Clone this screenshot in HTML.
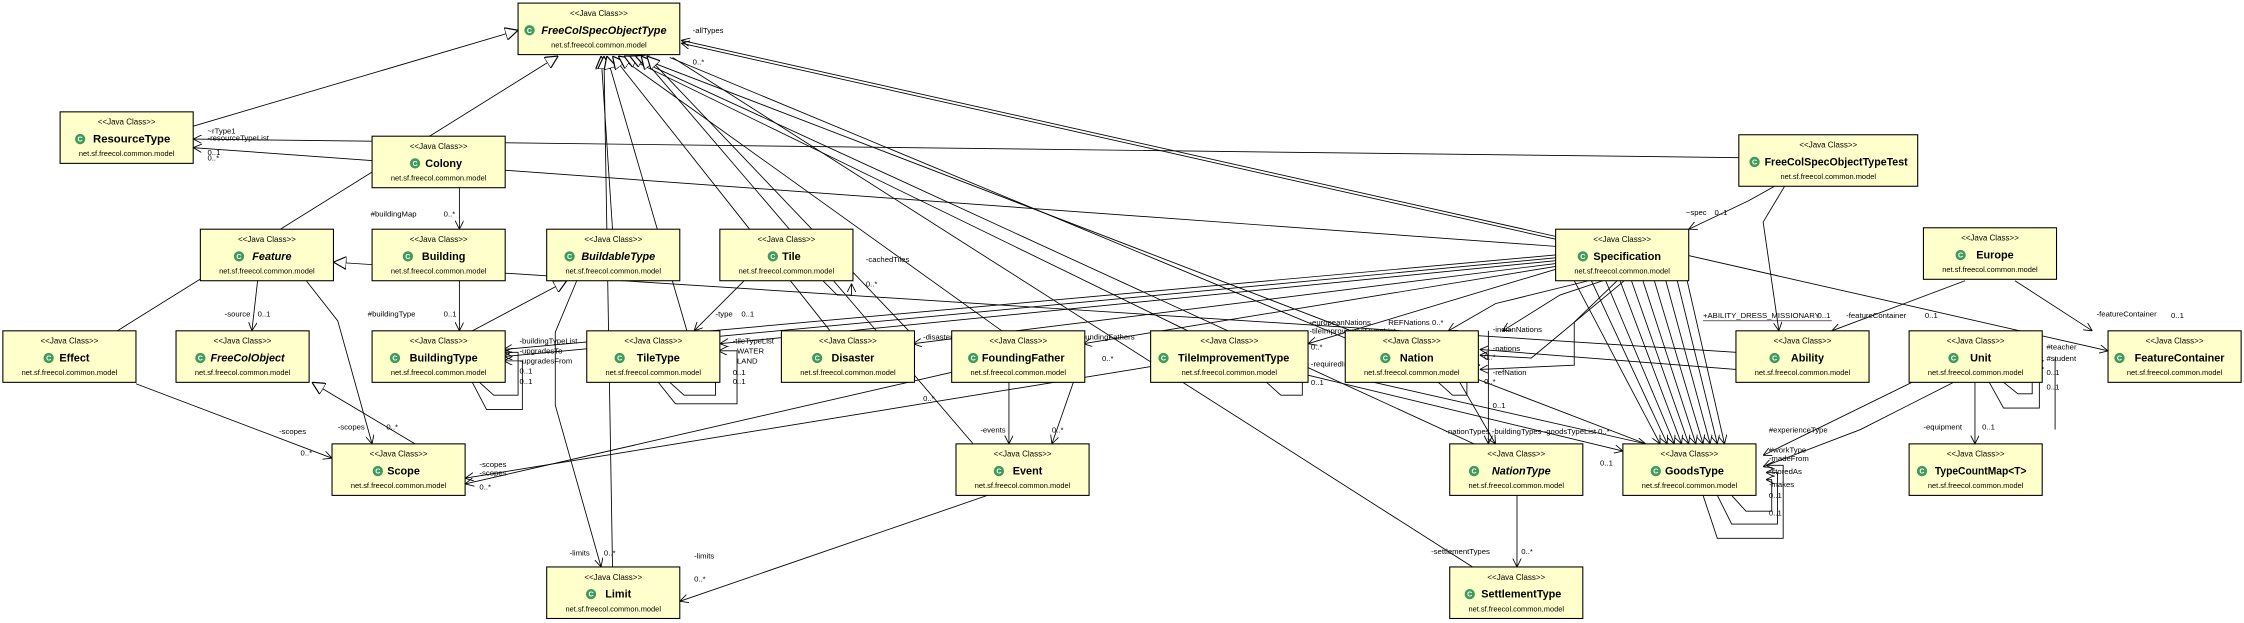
<!DOCTYPE html>
<html><head><meta charset="utf-8"><style>
html,body{margin:0;padding:0;background:#fff;}
svg{display:block;}
.b{fill:#ffffcc;stroke:#000;stroke-width:0.75;}
.st{font:5.6px "Liberation Sans",sans-serif;text-anchor:middle;fill:#000;}
.nm{font:bold 7.6px "Liberation Sans",sans-serif;text-anchor:middle;fill:#000;}
.it{font-style:italic;}
.pk{font:5.2px "Liberation Sans",sans-serif;text-anchor:middle;fill:#000;}
.l{stroke:#000;stroke-width:0.6;fill:none;}
.t{font:5.4px "Liberation Sans",sans-serif;fill:#000;}
.ic{fill:#3f9a5c;}
.ict{font:bold 5px "Liberation Sans",sans-serif;fill:#fff;text-anchor:middle;}
</style></head><body>
<svg width="2244" height="623" viewBox="0 0 1568 435" xmlns="http://www.w3.org/2000/svg">
<defs>
<marker id="a" viewBox="0 0 10 10" refX="10" refY="5" markerWidth="6" markerHeight="6" orient="auto" markerUnits="userSpaceOnUse"><path d="M0,0 L10,5 L0,10" fill="none" stroke="#000" stroke-width="1"/></marker>
<marker id="tr" viewBox="0 0 10 10" refX="10" refY="5" markerWidth="9" markerHeight="9" orient="auto" markerUnits="userSpaceOnUse"><path d="M0,0 L10,5 L0,10 Z" fill="#fff" stroke="#000" stroke-width="0.9"/></marker>
</defs>

<g class="l" marker-end="url(#tr)">
<line x1="135" y1="88" x2="362" y2="21"/>
<line x1="82" y1="231" x2="390" y2="39"/>
<line x1="428" y1="160" x2="420" y2="39"/>
<line x1="428" y1="396" x2="422" y2="39"/>
<line x1="480" y1="231" x2="424" y2="39"/>
<line x1="580" y1="231" x2="428" y2="39"/>
<line x1="700" y1="231" x2="432" y2="39"/>
<line x1="830" y1="231" x2="436" y2="39"/>
<line x1="1030" y1="310" x2="440" y2="39"/>
<line x1="1150" y1="310" x2="444" y2="39"/>
<line x1="680" y1="310" x2="448" y2="39"/>
<line x1="635" y1="231" x2="452" y2="39"/>
<line x1="330" y1="231" x2="396" y2="196"/>
<line x1="1213" y1="246" x2="233" y2="183"/>
<line x1="290" y1="310" x2="218" y2="267"/>
</g>
<line class="l" x1="940" y1="236" x2="468" y2="40" stroke-width="1"/>
<line class="l" x1="1029" y1="396" x2="470" y2="40"/>

<g class="l" marker-end="url(#a)">
<line x1="1087" y1="165" x2="476" y2="28"/>
<line x1="1087" y1="167" x2="476" y2="30"/>
<line x1="1215" y1="110" x2="135" y2="97"/>
<line x1="1087" y1="172" x2="135" y2="103"/>
<line x1="321" y1="131" x2="321" y2="160"/>
<line x1="321" y1="196" x2="321" y2="231"/>
<line x1="180" y1="196" x2="176" y2="231"/>
<polyline points="214,196 236,224 260,310"/>
<line x1="95" y1="268" x2="232" y2="320"/>
<polyline points="1240,130 1222,140 1180,160"/>
<polyline points="1250,125 1232,155 1243,231"/>
<line x1="1373" y1="196" x2="1280" y2="231"/>
<line x1="1408" y1="196" x2="1462" y2="231"/>
<line x1="1178" y1="178" x2="1473" y2="245"/>
<line x1="1380" y1="267" x2="1380" y2="310"/>
<line x1="1340" y1="265" x2="1232" y2="318"/>
<polyline points="1365,267 1300,300 1232,326"/>
<line x1="1060" y1="346" x2="1060" y2="396"/>
<line x1="1020" y1="267" x2="1045" y2="310"/>
<line x1="690" y1="346" x2="475" y2="420"/>
<line x1="705" y1="267" x2="705" y2="310"/>
<line x1="750" y1="267" x2="735" y2="310"/>
<polyline points="403,196 388,232 388,283 420,396"/>
<line x1="520" y1="196" x2="485" y2="231"/>
<line x1="804" y1="256" x2="325" y2="334"/>
<line x1="665" y1="260" x2="325" y2="338"/>
<line x1="1087" y1="178" x2="352" y2="244"/>
<line x1="1087" y1="180" x2="352" y2="249"/>
<line x1="1087" y1="182" x2="503" y2="240"/>
<line x1="1087" y1="184" x2="638" y2="240"/>
<line x1="1087" y1="186" x2="757" y2="240"/>
<line x1="1087" y1="188" x2="914" y2="240"/>
<polyline points="1120,196 1090,206 1050,231"/>
<polyline points="1110,196 1045,212 1012,231"/>
<polyline points="1130,196 1100,225 1100,255 1034,258"/>
<polyline points="1135,196 1070,250 1034,248"/>
<line x1="1213" y1="258" x2="1034" y2="244"/>
<line x1="1040" y1="231" x2="1040" y2="310"/>
<line x1="914" y1="262" x2="1134" y2="315"/>
<line x1="960" y1="267" x2="1150" y2="310"/>
<line x1="1100" y1="196" x2="1160" y2="310"/>
<line x1="1112" y1="196" x2="1165" y2="310"/>
<line x1="1122" y1="196" x2="1170" y2="310"/>
<line x1="1132" y1="196" x2="1175" y2="310"/>
<line x1="1140" y1="196" x2="1180" y2="310"/>
<line x1="1148" y1="196" x2="1185" y2="310"/>
<line x1="1156" y1="196" x2="1190" y2="310"/>
<line x1="1164" y1="196" x2="1195" y2="310"/>
<line x1="1172" y1="196" x2="1200" y2="310"/>
<line x1="1178" y1="192" x2="1205" y2="310"/>
</g>
<g class="l" marker-end="url(#a)">
<polyline points="335,267 345,276 362,276 362,246 352,246"/>
<polyline points="330,267 340,286 365,286 365,252 352,252"/>
<polyline points="468,267 478,276 500,276 500,250 502,250"/>
<polyline points="460,267 472,282 515,282 515,245 502,245"/>
<polyline points="575,196 585,206 595,206 595,198"/>
<polyline points="885,267 895,276 910,276 910,255 914,255"/>
<polyline points="1005,267 1015,276 1025,276 1025,255 1034,255"/>
<polyline points="1210,346 1220,357 1238,357 1238,335 1234,335"/>
<polyline points="1200,346 1210,366 1242,366 1242,330 1234,330"/>
<polyline points="1190,346 1200,376 1246,376 1246,325 1234,325"/>
<polyline points="1400,267 1410,275 1420,275 1420,257 1428,257"/>
<polyline points="1390,267 1400,285 1425,285 1425,252 1428,252"/>
</g>
<line class="l" x1="1436" y1="250" x2="1436" y2="300"/>

<g class="t">
<text x="484" y="23">-allTypes</text><text x="484" y="45">0..*</text>
<text x="145" y="93">~rType1</text><text x="145" y="98">-resourceTypeList</text>
<text x="145" y="108">0..1</text><text x="145" y="112">0..*</text>
<text x="259" y="151">#buildingMap</text><text x="310" y="151">0..*</text>
<text x="257" y="221">#buildingType</text><text x="310" y="221">0..1</text>
<text x="157" y="221">-source</text><text x="180" y="221">0..1</text>
<text x="236" y="300">-scopes</text><text x="270" y="300">0..*</text>
<text x="195" y="303">-scopes</text><text x="210" y="318">0..*</text>
<text x="335" y="326">-scopes</text><text x="335" y="332">-scopes</text><text x="335" y="342">0..*</text>
<text x="363" y="240">-buildingTypeList</text><text x="363" y="247">-upgradesTo</text><text x="363" y="254">-upgradesFrom</text>
<text x="363" y="261">0..1</text><text x="363" y="268">0..1</text>
<text x="500" y="221">-type</text><text x="518" y="221">0..1</text>
<text x="605" y="183">-cachedTiles</text><text x="605" y="200">0..*</text>
<text x="512" y="240">-tileTypeList</text><text x="515" y="247">WATER</text><text x="515" y="254">LAND</text>
<text x="512" y="262">0..1</text><text x="512" y="268">0..1</text>
<text x="645" y="237">-disasters</text><text x="645" y="280">0..*</text>
<text x="752" y="237">-foundingFathers</text><text x="770" y="252">0..*</text>
<text x="685" y="302">-events</text><text x="735" y="302">0..*</text>
<text x="398" y="388">-limits</text><text x="422" y="388">0..*</text>
<text x="485" y="390">-limits</text><text x="485" y="406">0..*</text>
<text x="915" y="227">-europeanNations</text><text x="970" y="227">REFNations 0..*</text>
<text x="915" y="233">-tileImprovementTypeList</text><text x="916" y="244">0..*</text>
<text x="916" y="256">-requiredImprovementType</text><text x="916" y="269">0..1</text>
<text x="1043" y="232">-indianNations</text><text x="1043" y="245">-nations</text><text x="1043" y="262">-refNation</text>
<text x="1037" y="251">0..*</text><text x="1037" y="268">0..*</text><text x="1043" y="285">0..1</text>
<text x="1010" y="303">-nationTypes -buildingTypes -goodsTypeList 0..*</text>
<text x="1043" y="314">-deliverGoodsType</text><text x="1118" y="325">0..1</text>
<text x="1000" y="387">-settlementTypes</text><text x="1063" y="387">0..*</text>
<text x="1178" y="150">~spec</text><text x="1198" y="150">0..1</text>
<text x="1190" y="222">+ABILITY_DRESS_MISSIONARY</text><text x="1270" y="222">0..1</text>
<text x="1290" y="222">-featureContainer</text>
<text x="1345" y="222">0..1</text>
<text x="1465" y="221">-featureContainer</text><text x="1517" y="222">0..1</text>
<text x="1430" y="244">#teacher</text><text x="1430" y="252">#student</text>
<text x="1430" y="262">0..1</text><text x="1430" y="272">0..1</text>
<text x="1236" y="302">#experienceType</text><text x="1236" y="316">#workType</text>
<text x="1236" y="322">-madeFrom</text><text x="1236" y="331">-storedAs</text><text x="1236" y="340">-makes</text>
<text x="1236" y="348">0..1</text><text x="1236" y="360">0..1</text>
<text x="1344" y="300">-equipment</text><text x="1385" y="300">0..1</text>
</g>
<line x1="1190" y1="224" x2="1280" y2="224" stroke="#000" stroke-width="0.4"/>

<g>
<rect class="b" x="362" y="2" width="113" height="36"/>
<text class="st" x="418.5" y="11">&lt;&lt;Java Class&gt;&gt;</text>
<circle class="ic" cx="370" cy="21" r="3.6"/><text class="ict" x="370" y="22.8">C</text>
<text class="nm it" x="422" y="23.5">FreeColSpecObjectType</text>
<text class="pk" x="418.5" y="33">net.sf.freecol.common.model</text>

<rect class="b" x="1215" y="94" width="125" height="36"/>
<text class="st" x="1277.5" y="103">&lt;&lt;Java Class&gt;&gt;</text>
<circle class="ic" cx="1226" cy="113" r="3.6"/><text class="ict" x="1226" y="114.8">C</text>
<text class="nm" x="1283" y="115.5" textLength="100" lengthAdjust="spacingAndGlyphs">FreeColSpecObjectTypeTest</text>
<text class="pk" x="1277.5" y="125">net.sf.freecol.common.model</text>

<rect class="b" x="804" y="231" width="110" height="36"/>
<text class="st" x="859" y="240">&lt;&lt;Java Class&gt;&gt;</text>
<circle class="ic" cx="813" cy="250" r="3.6"/><text class="ict" x="813" y="251.8">C</text>
<text class="nm" x="862" y="252.5">TileImprovementType</text>
<text class="pk" x="859" y="262">net.sf.freecol.common.model</text>
</g>
<g>
<rect class="b" x="42" y="78" width="93" height="36"/><text class="st" x="88.5" y="87">&lt;&lt;Java Class&gt;&gt;</text><circle class="ic" cx="56" cy="97" r="3.6"/><text class="ict" x="56" y="98.8">C</text><text class="nm" x="92" y="99.5" textLength="54" lengthAdjust="spacingAndGlyphs">ResourceType</text><text class="pk" x="88.5" y="109">net.sf.freecol.common.model</text>
<rect class="b" x="260" y="95" width="93" height="36"/><text class="st" x="306.5" y="104">&lt;&lt;Java Class&gt;&gt;</text><circle class="ic" cx="290" cy="114" r="3.6"/><text class="ict" x="290" y="115.8">C</text><text class="nm" x="310" y="116.5">Colony</text><text class="pk" x="306.5" y="126">net.sf.freecol.common.model</text>
<rect class="b" x="140" y="160" width="93" height="36"/><text class="st" x="186.5" y="169">&lt;&lt;Java Class&gt;&gt;</text><circle class="ic" cx="167" cy="179" r="3.6"/><text class="ict" x="167" y="180.8">C</text><text class="nm it" x="190" y="181.5">Feature</text><text class="pk" x="186.5" y="191">net.sf.freecol.common.model</text>
<rect class="b" x="260" y="160" width="93" height="36"/><text class="st" x="306.5" y="169">&lt;&lt;Java Class&gt;&gt;</text><circle class="ic" cx="285" cy="179" r="3.6"/><text class="ict" x="285" y="180.8">C</text><text class="nm" x="310" y="181.5">Building</text><text class="pk" x="306.5" y="191">net.sf.freecol.common.model</text>
<rect class="b" x="382" y="160" width="93" height="36"/><text class="st" x="428.5" y="169">&lt;&lt;Java Class&gt;&gt;</text><circle class="ic" cx="398" cy="179" r="3.6"/><text class="ict" x="398" y="180.8">C</text><text class="nm it" x="432" y="181.5">BuildableType</text><text class="pk" x="428.5" y="191">net.sf.freecol.common.model</text>
<rect class="b" x="503" y="160" width="93" height="36"/><text class="st" x="549.5" y="169">&lt;&lt;Java Class&gt;&gt;</text><circle class="ic" cx="540" cy="179" r="3.6"/><text class="ict" x="540" y="180.8">C</text><text class="nm" x="553" y="181.5">Tile</text><text class="pk" x="549.5" y="191">net.sf.freecol.common.model</text>
<rect class="b" x="1087" y="160" width="93" height="36"/><text class="st" x="1133.5" y="169">&lt;&lt;Java Class&gt;&gt;</text><circle class="ic" cx="1106" cy="179" r="3.6"/><text class="ict" x="1106" y="180.8">C</text><text class="nm" x="1137" y="181.5">Specification</text><text class="pk" x="1133.5" y="191">net.sf.freecol.common.model</text>
<rect class="b" x="1344" y="159" width="93" height="36"/><text class="st" x="1390.5" y="168">&lt;&lt;Java Class&gt;&gt;</text><circle class="ic" cx="1370" cy="178" r="3.6"/><text class="ict" x="1370" y="179.8">C</text><text class="nm" x="1394" y="180.5">Europe</text><text class="pk" x="1390.5" y="190">net.sf.freecol.common.model</text>
<rect class="b" x="2" y="231" width="93" height="36"/><text class="st" x="48.5" y="240">&lt;&lt;Java Class&gt;&gt;</text><circle class="ic" cx="34" cy="250" r="3.6"/><text class="ict" x="34" y="251.8">C</text><text class="nm" x="52" y="252.5">Effect</text><text class="pk" x="48.5" y="262">net.sf.freecol.common.model</text>
<rect class="b" x="123" y="231" width="93" height="36"/><text class="st" x="169.5" y="240">&lt;&lt;Java Class&gt;&gt;</text><circle class="ic" cx="140" cy="250" r="3.6"/><text class="ict" x="140" y="251.8">C</text><text class="nm it" x="173" y="252.5">FreeColObject</text><text class="pk" x="169.5" y="262">net.sf.freecol.common.model</text>
<rect class="b" x="260" y="231" width="93" height="36"/><text class="st" x="306.5" y="240">&lt;&lt;Java Class&gt;&gt;</text><circle class="ic" cx="276" cy="250" r="3.6"/><text class="ict" x="276" y="251.8">C</text><text class="nm" x="310" y="252.5">BuildingType</text><text class="pk" x="306.5" y="262">net.sf.freecol.common.model</text>
<rect class="b" x="410" y="231" width="93" height="36"/><text class="st" x="456.5" y="240">&lt;&lt;Java Class&gt;&gt;</text><circle class="ic" cx="433" cy="250" r="3.6"/><text class="ict" x="433" y="251.8">C</text><text class="nm" x="460" y="252.5">TileType</text><text class="pk" x="456.5" y="262">net.sf.freecol.common.model</text>
<rect class="b" x="546" y="231" width="93" height="36"/><text class="st" x="592.5" y="240">&lt;&lt;Java Class&gt;&gt;</text><circle class="ic" cx="571" cy="250" r="3.6"/><text class="ict" x="571" y="251.8">C</text><text class="nm" x="596" y="252.5">Disaster</text><text class="pk" x="592.5" y="262">net.sf.freecol.common.model</text>
<rect class="b" x="665" y="231" width="93" height="36"/><text class="st" x="711.5" y="240">&lt;&lt;Java Class&gt;&gt;</text><circle class="ic" cx="680" cy="250" r="3.6"/><text class="ict" x="680" y="251.8">C</text><text class="nm" x="715" y="252.5">FoundingFather</text><text class="pk" x="711.5" y="262">net.sf.freecol.common.model</text>
<rect class="b" x="940" y="231" width="93" height="36"/><text class="st" x="986.5" y="240">&lt;&lt;Java Class&gt;&gt;</text><circle class="ic" cx="968" cy="250" r="3.6"/><text class="ict" x="968" y="251.8">C</text><text class="nm" x="990" y="252.5">Nation</text><text class="pk" x="986.5" y="262">net.sf.freecol.common.model</text>
<rect class="b" x="1213" y="231" width="93" height="36"/><text class="st" x="1259.5" y="240">&lt;&lt;Java Class&gt;&gt;</text><circle class="ic" cx="1240" cy="250" r="3.6"/><text class="ict" x="1240" y="251.8">C</text><text class="nm" x="1263" y="252.5">Ability</text><text class="pk" x="1259.5" y="262">net.sf.freecol.common.model</text>
<rect class="b" x="1334" y="231" width="93" height="36"/><text class="st" x="1380.5" y="240">&lt;&lt;Java Class&gt;&gt;</text><circle class="ic" cx="1365" cy="250" r="3.6"/><text class="ict" x="1365" y="251.8">C</text><text class="nm" x="1384" y="252.5">Unit</text><text class="pk" x="1380.5" y="262">net.sf.freecol.common.model</text>
<rect class="b" x="1473" y="231" width="93" height="36"/><text class="st" x="1519.5" y="240">&lt;&lt;Java Class&gt;&gt;</text><circle class="ic" cx="1481" cy="250" r="3.6"/><text class="ict" x="1481" y="251.8">C</text><text class="nm" x="1523" y="252.5">FeatureContainer</text><text class="pk" x="1519.5" y="262">net.sf.freecol.common.model</text>
<rect class="b" x="232" y="310" width="93" height="36"/><text class="st" x="278.5" y="319">&lt;&lt;Java Class&gt;&gt;</text><circle class="ic" cx="264" cy="329" r="3.6"/><text class="ict" x="264" y="330.8">C</text><text class="nm" x="282" y="331.5">Scope</text><text class="pk" x="278.5" y="341">net.sf.freecol.common.model</text>
<rect class="b" x="668" y="310" width="93" height="36"/><text class="st" x="714.5" y="319">&lt;&lt;Java Class&gt;&gt;</text><circle class="ic" cx="698" cy="329" r="3.6"/><text class="ict" x="698" y="330.8">C</text><text class="nm" x="718" y="331.5">Event</text><text class="pk" x="714.5" y="341">net.sf.freecol.common.model</text>
<rect class="b" x="1013" y="310" width="93" height="36"/><text class="st" x="1059.5" y="319">&lt;&lt;Java Class&gt;&gt;</text><circle class="ic" cx="1030" cy="329" r="3.6"/><text class="ict" x="1030" y="330.8">C</text><text class="nm it" x="1063" y="331.5">NationType</text><text class="pk" x="1059.5" y="341">net.sf.freecol.common.model</text>
<rect class="b" x="1134" y="310" width="93" height="36"/><text class="st" x="1180.5" y="319">&lt;&lt;Java Class&gt;&gt;</text><circle class="ic" cx="1157" cy="329" r="3.6"/><text class="ict" x="1157" y="330.8">C</text><text class="nm" x="1184" y="331.5">GoodsType</text><text class="pk" x="1180.5" y="341">net.sf.freecol.common.model</text>
<rect class="b" x="1334" y="310" width="93" height="36"/><text class="st" x="1380.5" y="319">&lt;&lt;Java Class&gt;&gt;</text><circle class="ic" cx="1343" cy="329" r="3.6"/><text class="ict" x="1343" y="330.8">C</text><text class="nm" x="1384" y="331.5" textLength="64" lengthAdjust="spacingAndGlyphs">TypeCountMap&lt;T&gt;</text><text class="pk" x="1380.5" y="341">net.sf.freecol.common.model</text>
<rect class="b" x="382" y="396" width="93" height="36"/><text class="st" x="428.5" y="405">&lt;&lt;Java Class&gt;&gt;</text><circle class="ic" cx="413" cy="415" r="3.6"/><text class="ict" x="413" y="416.8">C</text><text class="nm" x="432" y="417.5">Limit</text><text class="pk" x="428.5" y="427">net.sf.freecol.common.model</text>
<rect class="b" x="1013" y="396" width="93" height="36"/><text class="st" x="1059.5" y="405">&lt;&lt;Java Class&gt;&gt;</text><circle class="ic" cx="1027" cy="415" r="3.6"/><text class="ict" x="1027" y="416.8">C</text><text class="nm" x="1063" y="417.5">SettlementType</text><text class="pk" x="1059.5" y="427">net.sf.freecol.common.model</text>
</g>
</svg>
</body></html>
